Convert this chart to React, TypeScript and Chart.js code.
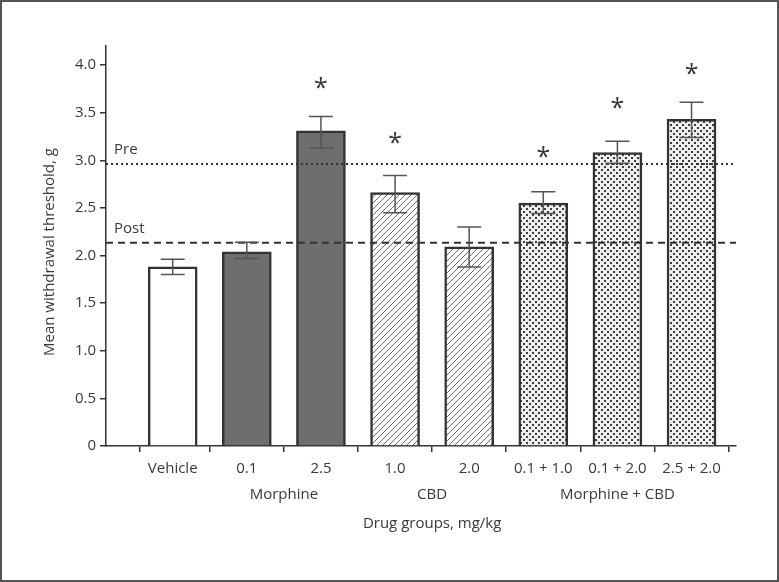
import React, { useEffect, useRef } from "react";
import { Chart, registerables } from "chart.js";

Chart.register(...registerables);

const categories = ["Vehicle", "0.1", "2.5", "1.0", "2.0", "0.1 + 1.0", "0.1 + 2.0", "2.5 + 2.0"];
const positions = [1, 2, 3, 4, 5, 6, 7, 8];
const means = [1.88, 2.04, 3.31, 2.66, 2.09, 2.55, 3.08, 3.43];
const errHigh = [1.96, 2.14, 3.46, 2.84, 2.30, 2.67, 3.20, 3.61];
const errLow = [1.80, 1.97, 3.13, 2.45, 1.88, 2.44, 2.97, 3.24];
const starY = [null, null, 3.84, 3.27, null, 3.12, 3.63, 3.99];
const fillKinds = ["white", "dark", "dark", "hatch", "hatch", "dots", "dots", "dots"];
const yTicks = [0, 0.5, 1.0, 1.5, 2.0, 2.5, 3.0, 3.5, 4.0];
const groupLabels = ["Morphine", "CBD", "Morphine + CBD"];
const groupCenters = [2.5, 4.5, 7];
const preValue = 2.96;
const postValue = 2.135;
const xTitle = "Drug groups, mg/kg";
const yTitle = "Mean withdrawal threshold, g";

const FONT = '"Open Sans", "DejaVu Sans", sans-serif';
const TEXT = "#383838";

function makeHatch(): CanvasPattern | string {
  const c = document.createElement("canvas");
  c.width = 6;
  c.height = 6;
  const g = c.getContext("2d")!;
  g.fillStyle = "#fff";
  g.fillRect(0, 0, 6, 6);
  g.strokeStyle = "#6a6a6a";
  g.lineWidth = 1;
  g.beginPath();
  g.moveTo(-1, 7);
  g.lineTo(7, -1);
  g.stroke();
  return g.createPattern(c, "repeat") || "#fff";
}

function makeDots(): CanvasPattern | string {
  const c = document.createElement("canvas");
  c.width = 6;
  c.height = 6;
  const g = c.getContext("2d")!;
  g.fillStyle = "#eeeeee";
  g.fillRect(0, 0, 6, 6);
  g.fillStyle = "#3c3c3c";
  g.fillRect(1, 1, 2, 2);
  g.fillRect(4, 4, 2, 2);
  return g.createPattern(c, "repeat") || "#ccc";
}

export default function App() {
  const ref = useRef<HTMLCanvasElement>(null);

  useEffect(() => {
    if (!ref.current) return;
    const hatch = makeHatch();
    const dots = makeDots();
    const bg = fillKinds.map((k) =>
      k === "white" ? "#ffffff" : k === "dark" ? "#6e6e6e" : k === "hatch" ? hatch : dots
    );

    const overlay = {
      id: "overlay",
      afterDatasetsDraw(chart: any) {
        const ctx = chart.ctx;
        const xs = chart.scales.x;
        const ys = chart.scales.y;
        const area = chart.chartArea;
        ctx.save();
        // reference lines
        ctx.strokeStyle = "#333";
        ctx.lineWidth = 2;
        ctx.setLineDash([2, 3]);
        const py = ys.getPixelForValue(preValue);
        ctx.beginPath();
        ctx.moveTo(area.left, py);
        ctx.lineTo(area.right, py);
        ctx.stroke();
        ctx.setLineDash([7, 5]);
        const qy = ys.getPixelForValue(postValue);
        ctx.beginPath();
        ctx.moveTo(area.left, qy);
        ctx.lineTo(area.right, qy);
        ctx.stroke();
        ctx.setLineDash([]);
        ctx.fillStyle = TEXT;
        ctx.font = `15px ${FONT}`;
        ctx.textAlign = "left";
        ctx.textBaseline = "middle";
        ctx.fillText("Pre", area.left + 8, py - 14);
        ctx.fillText("Post", area.left + 8, qy - 14);

        // error bars
        ctx.strokeStyle = "#555";
        ctx.lineWidth = 1.5;
        for (let i = 0; i < positions.length; i++) {
          const x = xs.getPixelForValue(positions[i]);
          const yh = ys.getPixelForValue(errHigh[i]);
          const yl = ys.getPixelForValue(errLow[i]);
          ctx.beginPath();
          ctx.moveTo(x, yh);
          ctx.lineTo(x, yl);
          ctx.moveTo(x - 12, yh);
          ctx.lineTo(x + 12, yh);
          ctx.moveTo(x - 12, yl);
          ctx.lineTo(x + 12, yl);
          ctx.stroke();
        }
        // stars
        ctx.font = `25px ${FONT}`;
        ctx.textAlign = "center";
        ctx.textBaseline = "alphabetic";
        for (let i = 0; i < positions.length; i++) {
          const s = starY[i];
          if (s == null) continue;
          const x = xs.getPixelForValue(positions[i]);
          const y = ys.getPixelForValue(s);
          ctx.fillText("*", x, y + 16);
        }
        // group labels & titles
        ctx.font = `15px ${FONT}`;
        ctx.textBaseline = "middle";
        for (let i = 0; i < groupLabels.length; i++) {
          ctx.fillText(groupLabels[i], xs.getPixelForValue(groupCenters[i]), area.bottom + 49);
        }
        ctx.fillText(xTitle, xs.getPixelForValue(4.5), area.bottom + 78);
        ctx.save();
        ctx.translate(50, (area.top + area.bottom) / 2 + 6);
        ctx.rotate(-Math.PI / 2);
        ctx.fillText(yTitle, 0, 0);
        ctx.restore();
        ctx.restore();
      },
    };

    const chart = new Chart(ref.current, {
      type: "bar",
      data: {
        datasets: [
          {
            data: positions.map((p, i) => ({ x: p, y: means[i] })),
            backgroundColor: bg as any,
            borderColor: "#333",
            borderWidth: 2.5,
            barThickness: 49,
          },
        ],
      },
      options: {
        responsive: false,
        animation: false,
        events: [],
        layout: { padding: { left: 0, top: 46, right: 43, bottom: 0 } },
        plugins: { legend: { display: false }, tooltip: { enabled: false } },
        scales: {
          x: {
            type: "linear",
            offset: false,
            min: 0.1,
            max: 8.6,
            afterBuildTicks: (s: any) => {
              s.ticks = [0.1, ...positions].map((v) => ({ value: v }));
            },
            afterFit: (s: any) => {
              s.height = 136;
            },
            ticks: {
              autoSkip: false,
              maxRotation: 0,
              padding: 8,
              color: TEXT,
              font: { family: FONT, size: 15 },
              callback: (v: any) => {
                const idx = positions.indexOf(Number(v));
                return idx >= 0 ? categories[idx] : "";
              },
            },
            grid: { drawOnChartArea: false, drawTicks: true, tickLength: 6, color: "#333", lineWidth: 1.5 },
            border: { display: true, color: "#333", width: 1.5 },
          },
          y: {
            min: 0,
            max: 4.2,
            afterBuildTicks: (s: any) => {
              s.ticks = yTicks.map((v) => ({ value: v }));
            },
            afterFit: (s: any) => {
              s.width = 106;
            },
            ticks: {
              padding: 4,
              color: TEXT,
              font: { family: FONT, size: 15 },
              callback: (v: any) => (Number(v) === 0 ? "0" : Number(v).toFixed(1)),
            },
            grid: { drawOnChartArea: false, drawTicks: true, tickLength: 6, color: "#333", lineWidth: 1.5 },
            border: { display: true, color: "#333", width: 1.5 },
          },
        },
      },
      plugins: [overlay],
    });
    return () => chart.destroy();
  }, []);

  return (
    <div style={{ position: "fixed", left: 0, top: 0, width: 779, height: 582, background: "#fff" }}>
      <canvas ref={ref} width={779} height={582} style={{ position: "absolute", left: 0, top: 0 }} />
      <div
        style={{
          position: "absolute",
          left: 0,
          top: 0,
          width: 779,
          height: 582,
          boxSizing: "border-box",
          border: "2px solid #555",
          pointerEvents: "none",
        }}
      />
    </div>
  );
}
